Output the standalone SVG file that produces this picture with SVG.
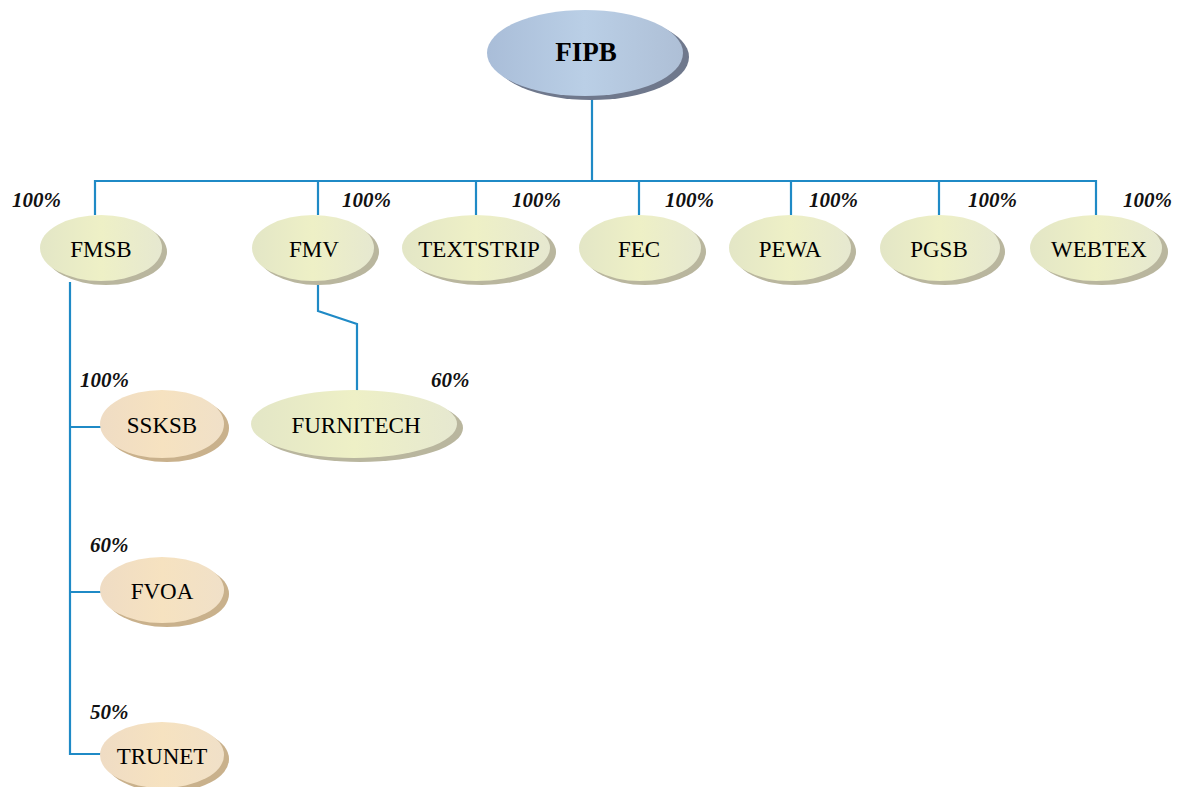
<svg xmlns="http://www.w3.org/2000/svg" width="1179" height="787" viewBox="0 0 1179 787">
<defs>
<linearGradient id="gTop" x1="0" y1="0" x2="1" y2="0"><stop offset="0" stop-color="#a9bdd8"/><stop offset="0.5" stop-color="#bacfe6"/><stop offset="1" stop-color="#aebfd6"/></linearGradient>
<linearGradient id="gL1" x1="0" y1="0" x2="1" y2="0"><stop offset="0" stop-color="#e3e6c6"/><stop offset="0.5" stop-color="#eef0c6"/><stop offset="1" stop-color="#e6e8d0"/></linearGradient>
<linearGradient id="gL2" x1="0" y1="0" x2="1" y2="0"><stop offset="0" stop-color="#efdcc4"/><stop offset="0.5" stop-color="#f6e2c0"/><stop offset="1" stop-color="#f0e0c8"/></linearGradient>
</defs>
<style>
.lbl{font-family:"Liberation Serif","Times New Roman",serif;font-size:23px;fill:#000;text-anchor:middle;dominant-baseline:central}
.top{font-weight:bold;font-size:27px}
.pct{font-family:"Liberation Serif","Times New Roman",serif;font-size:21px;font-weight:bold;font-style:italic;fill:#111}
.sh1{fill:#b9b69e}
.sh2{fill:#c9b18c}
.sh0{fill:#6f788c}
.f1{fill:url(#gL1)}
.f2{fill:url(#gL2)}
.f0{fill:url(#gTop)}
.con{fill:none;stroke:#1f8ac6;stroke-width:2.2}
</style>
<g id="connectors">
<path class="con" d="M592,97 V181 M95,215 V181 H1096 V215 M318,181 V215 M476,181 V215 M639,181 V215 M791,181 V215 M939,181 V215"/>
<path class="con" d="M70,282 V754 H101 M70,427 H101 M70,592 H101"/>
<path class="con" d="M318,282 V311 L357,324 V391"/>
</g>
<g id="FIPB"><ellipse class="sh0" cx="591" cy="57" rx="98" ry="43"/><ellipse class="f0" cx="585" cy="53" rx="98" ry="43"/><text class="lbl top" x="586" y="52">FIPB</text></g>
<g id="FMSB"><ellipse class="sh1" cx="106" cy="252" rx="61" ry="33"/><ellipse class="f1" cx="101" cy="248" rx="61" ry="33"/><text class="lbl" x="101" y="249">FMSB</text><text class="pct" x="12" y="207">100%</text></g>
<g id="FMV"><ellipse class="sh1" cx="318" cy="252" rx="61" ry="33"/><ellipse class="f1" cx="313" cy="248" rx="61" ry="33"/><text class="lbl" x="314" y="249">FMV</text><text class="pct" x="342" y="207">100%</text></g>
<g id="TEXTSTRIP"><ellipse class="sh1" cx="482" cy="252" rx="74" ry="33"/><ellipse class="f1" cx="476" cy="248" rx="74" ry="33"/><text class="lbl" x="479" y="249">TEXTSTRIP</text><text class="pct" x="512" y="207">100%</text></g>
<g id="FEC"><ellipse class="sh1" cx="645" cy="252" rx="61" ry="33"/><ellipse class="f1" cx="640" cy="248" rx="61" ry="33"/><text class="lbl" x="639" y="249">FEC</text><text class="pct" x="665" y="207">100%</text></g>
<g id="PEWA"><ellipse class="sh1" cx="795" cy="252" rx="61" ry="33"/><ellipse class="f1" cx="790" cy="248" rx="61" ry="33"/><text class="lbl" x="790" y="249">PEWA</text><text class="pct" x="809" y="207">100%</text></g>
<g id="PGSB"><ellipse class="sh1" cx="945" cy="252" rx="60" ry="33"/><ellipse class="f1" cx="940" cy="248" rx="60" ry="33"/><text class="lbl" x="939" y="249">PGSB</text><text class="pct" x="968" y="207">100%</text></g>
<g id="WEBTEX"><ellipse class="sh1" cx="1102" cy="252" rx="66" ry="33"/><ellipse class="f1" cx="1096" cy="248" rx="66" ry="33"/><text class="lbl" x="1099" y="249">WEBTEX</text><text class="pct" x="1123" y="207">100%</text></g>
<g id="FURNITECH"><ellipse class="sh1" cx="360" cy="428" rx="103" ry="34"/><ellipse class="f1" cx="354" cy="424" rx="103" ry="34"/><text class="lbl" x="356" y="425">FURNITECH</text><text class="pct" x="431" y="387">60%</text></g>
<g id="SSKSB"><ellipse class="sh2" cx="167" cy="428" rx="62" ry="34"/><ellipse class="f2" cx="162" cy="424" rx="62" ry="34"/><text class="lbl" x="162" y="425">SSKSB</text><text class="pct" x="80" y="387">100%</text></g>
<g id="FVOA"><ellipse class="sh2" cx="167" cy="594" rx="62" ry="33"/><ellipse class="f2" cx="162" cy="590" rx="62" ry="33"/><text class="lbl" x="162" y="591">FVOA</text><text class="pct" x="90" y="552">60%</text></g>
<g id="TRUNET"><ellipse class="sh2" cx="167" cy="759" rx="62" ry="33"/><ellipse class="f2" cx="162" cy="755" rx="62" ry="33"/><text class="lbl" x="162" y="756">TRUNET</text><text class="pct" x="90" y="719">50%</text></g>
</svg>
